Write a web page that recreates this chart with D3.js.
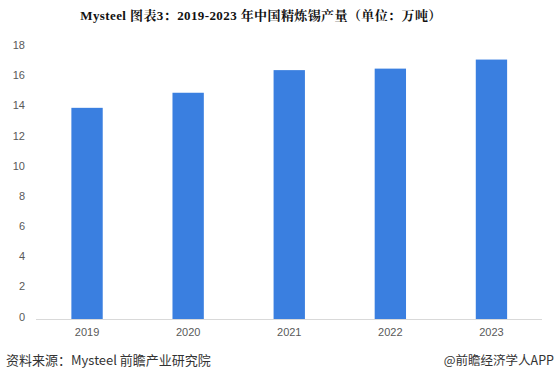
<!DOCTYPE html>
<html><head><meta charset="utf-8">
<script src="https://cdn.jsdelivr.net/npm/d3@7"></script>
<style>body{margin:0;background:#fff;} svg{display:block;}</style>
</head><body><svg id="c" width="559" height="372"></svg>
<script>
const years = ["2019","2020","2021","2022","2023"];
const output = [14.0, 15.0, 16.5, 16.6, 17.2];
const yTicks = [0,2,4,6,8,10,12,14,16,18];
const titleText = "Mysteel  图表3：2019-2023 年中国精炼锡产量（单位：万吨）";
const sourceText = "资料来源：Mysteel 前瞻产业研究院";
const brandText = "@前瞻经济学人APP";

const svg = d3.select("#c");
svg.append("rect").attr("width",559).attr("height",372).attr("fill","#fff");

const x = d3.scaleBand().domain(years).range([36.5, 542]).paddingInner(0.69).paddingOuter(0.345);
const y = d3.scaleLinear().domain([0,18]).range([319, 47.5]);

svg.append("text").attr("x",261).attr("y",20).attr("text-anchor","middle")
  .attr("font-family","'Liberation Serif','Noto Serif CJK SC','Noto Sans CJK SC',serif")
  .attr("font-weight","bold").attr("font-size",13).attr("letter-spacing",0.4)
  .attr("fill","#111").text(titleText);

const yAxis = d3.axisLeft(y).tickValues(yTicks).tickSize(0).tickPadding(0);
const gy = svg.append("g").attr("transform","translate(25,0)").call(yAxis);
gy.select(".domain").remove();
gy.selectAll("text").attr("font-family","'Liberation Sans','Noto Sans CJK SC',sans-serif")
  .attr("font-size",11).attr("fill","#595959").attr("dy","0.1em");

svg.selectAll("rect.bar").data(output).join("rect").attr("class","bar")
  .attr("x",(d,i)=>x(years[i])).attr("width",x.bandwidth())
  .attr("y",d=>y(d)).attr("height",d=>y(0)-y(d)).attr("fill","#3a7fe0");

const xAxis = d3.axisBottom(x).tickSize(0).tickPadding(9);
const gx = svg.append("g").attr("transform","translate(0,319.5)").call(xAxis);
gx.select(".domain").attr("stroke","#d9d9d9").attr("d","M36,0H542");
gx.selectAll("text").attr("font-family","'Liberation Sans','Noto Sans CJK SC',sans-serif")
  .attr("font-size",11).attr("fill","#595959");

svg.append("text").attr("x",6).attr("y",365)
  .attr("font-family","'Noto Sans CJK SC','Liberation Sans',sans-serif")
  .attr("font-size",13).attr("fill","#333").text(sourceText);
svg.append("text").attr("x",554).attr("y",365).attr("text-anchor","end")
  .attr("font-family","'Noto Sans CJK SC','Liberation Sans',sans-serif")
  .attr("font-size",12.5).attr("fill","#333").text(brandText);
</script></body></html>
